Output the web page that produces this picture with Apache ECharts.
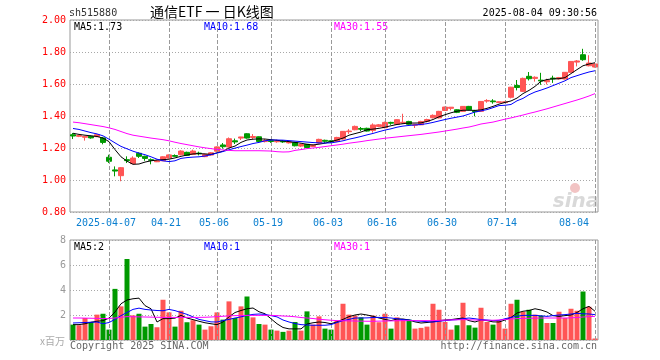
<!DOCTYPE html>
<html><head><meta charset="utf-8">
<script src="https://cdn.jsdelivr.net/npm/echarts@6/dist/echarts.min.js"></script>
<style>html,body{margin:0;padding:0;background:#fff}#c{width:660px;height:360px}</style>
</head><body><div id="c"></div>
<script>
const dates = ["2025-03-27","2025-03-28","2025-03-31","2025-04-01","2025-04-02","2025-04-03","2025-04-07","2025-04-08","2025-04-09","2025-04-10","2025-04-11","2025-04-14","2025-04-15","2025-04-16","2025-04-17","2025-04-18","2025-04-21","2025-04-22","2025-04-23","2025-04-24","2025-04-25","2025-04-28","2025-04-29","2025-04-30","2025-05-06","2025-05-07","2025-05-08","2025-05-09","2025-05-12","2025-05-13","2025-05-14","2025-05-15","2025-05-16","2025-05-19","2025-05-20","2025-05-21","2025-05-22","2025-05-23","2025-05-26","2025-05-27","2025-05-28","2025-05-29","2025-05-30","2025-06-03","2025-06-04","2025-06-05","2025-06-06","2025-06-09","2025-06-10","2025-06-11","2025-06-12","2025-06-13","2025-06-16","2025-06-17","2025-06-18","2025-06-19","2025-06-20","2025-06-23","2025-06-24","2025-06-25","2025-06-26","2025-06-27","2025-06-30","2025-07-01","2025-07-02","2025-07-03","2025-07-04","2025-07-07","2025-07-08","2025-07-09","2025-07-10","2025-07-11","2025-07-14","2025-07-15","2025-07-16","2025-07-17","2025-07-18","2025-07-21","2025-07-22","2025-07-23","2025-07-24","2025-07-25","2025-07-28","2025-07-29","2025-07-30","2025-07-31","2025-08-01","2025-08-04"];
const xTickDates = ["2025-04-07","2025-04-21","2025-05-06","2025-05-19","2025-06-03","2025-06-16","2025-06-30","2025-07-14","2025-08-04"];
const opens = [1.283,1.273,1.267,1.273,1.271,1.263,1.142,1.063,1.027,1.127,1.102,1.167,1.148,1.127,1.114,1.120,1.137,1.153,1.158,1.173,1.160,1.168,1.146,1.156,1.180,1.219,1.206,1.245,1.262,1.289,1.266,1.270,1.240,1.245,1.239,1.243,1.232,1.235,1.212,1.223,1.210,1.231,1.248,1.245,1.241,1.256,1.302,1.314,1.322,1.323,1.310,1.335,1.327,1.360,1.348,1.356,1.366,1.342,1.345,1.366,1.389,1.388,1.435,1.448,1.439,1.429,1.460,1.432,1.429,1.493,1.494,1.484,1.484,1.517,1.591,1.554,1.648,1.635,1.624,1.614,1.637,1.632,1.631,1.673,1.737,1.783,1.714,1.706];
const closes = [1.275,1.278,1.273,1.263,1.283,1.235,1.117,1.056,1.077,1.121,1.137,1.148,1.135,1.123,1.120,1.145,1.157,1.148,1.181,1.154,1.181,1.164,1.160,1.170,1.207,1.208,1.258,1.238,1.269,1.262,1.272,1.241,1.247,1.241,1.244,1.238,1.238,1.214,1.222,1.203,1.218,1.254,1.242,1.240,1.266,1.304,1.306,1.335,1.317,1.306,1.344,1.345,1.360,1.355,1.377,1.361,1.348,1.348,1.366,1.378,1.404,1.429,1.456,1.455,1.423,1.460,1.439,1.427,1.491,1.497,1.489,1.489,1.489,1.580,1.578,1.635,1.633,1.642,1.619,1.622,1.632,1.640,1.673,1.741,1.744,1.752,1.731,1.725];
const lows = [1.256,1.268,1.246,1.258,1.268,1.223,1.106,1.023,0.992,1.106,1.100,1.138,1.120,1.098,1.112,1.118,1.135,1.145,1.154,1.150,1.156,1.154,1.143,1.153,1.177,1.196,1.204,1.225,1.250,1.258,1.255,1.236,1.235,1.232,1.233,1.232,1.228,1.210,1.206,1.199,1.206,1.228,1.232,1.232,1.237,1.253,1.288,1.311,1.306,1.303,1.296,1.330,1.323,1.345,1.345,1.350,1.345,1.325,1.343,1.360,1.385,1.385,1.433,1.435,1.418,1.427,1.436,1.398,1.426,1.483,1.477,1.481,1.480,1.510,1.560,1.550,1.622,1.615,1.595,1.597,1.607,1.628,1.629,1.670,1.710,1.745,1.710,1.703];
const highs = [1.294,1.283,1.275,1.277,1.285,1.269,1.158,1.085,1.081,1.148,1.148,1.173,1.152,1.135,1.126,1.148,1.160,1.160,1.186,1.177,1.190,1.177,1.164,1.175,1.210,1.231,1.266,1.259,1.270,1.292,1.287,1.272,1.257,1.252,1.252,1.250,1.242,1.238,1.228,1.225,1.222,1.258,1.252,1.248,1.270,1.306,1.318,1.340,1.331,1.327,1.354,1.350,1.365,1.364,1.380,1.414,1.370,1.350,1.370,1.383,1.410,1.432,1.458,1.456,1.442,1.462,1.463,1.438,1.493,1.505,1.505,1.492,1.494,1.582,1.625,1.640,1.675,1.648,1.670,1.633,1.652,1.644,1.675,1.743,1.750,1.820,1.780,1.730];
const ma5 = [1.292,1.285,1.280,1.276,1.272,1.262,1.240,1.190,1.145,1.118,1.098,1.100,1.112,1.120,1.125,1.127,1.130,1.138,1.148,1.156,1.163,1.165,1.163,1.160,1.170,1.180,1.200,1.212,1.235,1.250,1.255,1.257,1.256,1.252,1.248,1.244,1.240,1.235,1.230,1.223,1.219,1.224,1.230,1.240,1.250,1.262,1.280,1.290,1.300,1.314,1.318,1.323,1.330,1.339,1.347,1.352,1.356,1.356,1.357,1.366,1.378,1.395,1.408,1.420,1.430,1.436,1.436,1.435,1.438,1.448,1.460,1.474,1.485,1.494,1.512,1.540,1.560,1.585,1.617,1.628,1.632,1.633,1.640,1.665,1.690,1.714,1.725,1.733];
const ma10 = [1.322,1.316,1.306,1.296,1.288,1.276,1.255,1.232,1.210,1.195,1.180,1.168,1.158,1.145,1.130,1.120,1.115,1.120,1.135,1.140,1.143,1.145,1.150,1.158,1.168,1.178,1.189,1.199,1.209,1.218,1.228,1.235,1.245,1.250,1.250,1.249,1.246,1.243,1.240,1.237,1.234,1.232,1.231,1.232,1.238,1.245,1.255,1.263,1.272,1.282,1.291,1.302,1.312,1.320,1.330,1.337,1.341,1.344,1.347,1.352,1.360,1.369,1.378,1.386,1.393,1.400,1.412,1.425,1.432,1.440,1.452,1.465,1.467,1.472,1.495,1.510,1.533,1.550,1.562,1.575,1.590,1.605,1.620,1.640,1.652,1.664,1.675,1.683];
const ma30 = [1.362,1.358,1.352,1.346,1.340,1.334,1.326,1.316,1.303,1.290,1.280,1.274,1.268,1.262,1.257,1.252,1.245,1.236,1.228,1.221,1.214,1.207,1.201,1.196,1.191,1.188,1.185,1.183,1.183,1.183,1.183,1.183,1.182,1.181,1.177,1.175,1.176,1.185,1.190,1.196,1.200,1.204,1.209,1.214,1.219,1.224,1.230,1.235,1.240,1.246,1.251,1.256,1.261,1.265,1.269,1.273,1.277,1.281,1.285,1.290,1.295,1.300,1.306,1.312,1.318,1.325,1.331,1.340,1.350,1.356,1.362,1.371,1.380,1.388,1.397,1.406,1.416,1.425,1.435,1.445,1.456,1.467,1.478,1.489,1.500,1.512,1.525,1.540];
const volumes = [1.23,1.18,1.76,1.44,2.03,2.10,0.83,4.09,2.69,6.48,1.97,2.10,1.07,1.28,1.02,3.22,2.21,1.07,2.34,1.42,1.58,1.23,0.83,1.10,2.21,1.63,3.09,1.76,2.69,3.48,1.81,1.28,1.23,0.83,0.75,0.65,0.75,1.44,0.75,2.29,1.23,1.89,0.91,0.83,1.55,2.90,2.03,1.95,1.81,1.23,1.95,1.42,2.10,0.91,1.81,1.63,1.63,0.91,0.97,1.07,2.90,2.42,1.44,0.83,1.18,2.98,1.18,0.99,2.58,1.44,1.23,1.55,0.91,2.90,3.22,2.26,2.42,2.03,1.95,1.36,1.36,2.26,1.76,2.50,2.34,3.88,2.66,0.12];
const vma5 = [1.23,1.23,1.30,1.42,1.50,1.55,1.75,2.24,2.90,3.20,3.30,3.35,2.75,2.50,1.44,1.71,1.71,1.75,1.97,1.76,1.63,1.50,1.38,1.30,1.23,1.44,1.85,2.20,2.36,2.50,2.56,2.26,2.10,1.70,1.30,1.00,0.89,0.89,0.89,1.28,1.38,1.44,1.40,1.30,1.45,1.65,1.87,2.00,2.08,2.00,1.90,1.76,1.65,1.55,1.68,1.68,1.60,1.45,1.36,1.40,1.46,1.55,1.60,1.63,1.70,1.76,1.55,1.44,1.60,1.55,1.45,1.44,1.60,1.80,2.16,2.30,2.36,2.50,2.40,2.24,1.95,1.89,1.95,2.00,2.20,2.50,2.69,2.30];
const vma10 = [1.36,1.38,1.40,1.42,1.44,1.30,1.40,1.65,1.95,2.20,2.45,2.55,2.45,2.40,2.36,2.34,2.45,2.35,2.20,2.05,1.85,1.65,1.55,1.45,1.44,1.55,1.65,1.76,1.85,1.97,2.05,2.08,2.05,1.95,1.85,1.60,1.44,1.32,1.23,1.20,1.18,1.18,1.18,1.23,1.40,1.55,1.65,1.76,1.76,1.77,1.80,1.81,1.80,1.76,1.70,1.63,1.60,1.53,1.50,1.47,1.44,1.50,1.55,1.60,1.63,1.70,1.76,1.70,1.63,1.60,1.55,1.57,1.70,1.81,1.90,1.97,1.97,1.97,1.93,1.89,1.95,2.00,2.03,2.08,2.13,2.10,2.08,2.03];
const vma30 = [1.76,1.76,1.75,1.74,1.73,1.72,1.72,1.76,1.82,1.87,1.86,1.85,1.84,1.83,1.82,1.81,1.81,1.81,1.81,1.81,1.81,1.81,1.82,1.84,1.87,1.90,1.93,1.95,1.96,1.97,1.97,1.97,1.97,1.97,1.95,1.92,1.90,1.86,1.80,1.76,1.72,1.66,1.62,1.58,1.55,1.54,1.53,1.52,1.51,1.50,1.50,1.51,1.52,1.53,1.54,1.55,1.55,1.55,1.55,1.55,1.55,1.57,1.59,1.61,1.62,1.63,1.62,1.60,1.59,1.58,1.58,1.60,1.64,1.68,1.71,1.73,1.74,1.75,1.76,1.76,1.76,1.76,1.76,1.77,1.80,1.84,1.87,1.89];
const priceTicks = [0.8, 2.0, 0.2];
const volTicks = [0, 8, 2];
const headerTexts = {code:"sh515880", title:"通信ETF 一 日K线图", time:"2025-08-04 09:30:56"};
const maLabels = ["MA5:1.73","MA10:1.68","MA30:1.55"];
const volMaLabels = ["MA5:2","MA10:1","MA30:1"];

const RED = '#ff5555', GREEN = '#009900';
const MONO = '"DejaVu Sans Mono", "Liberation Mono", monospace';
const tickIdx = xTickDates.map(d => dates.indexOf(d));
const showTick = (i) => tickIdx.indexOf(i) >= 0;
const gridLineH = {show:true, lineStyle:{color:'#a8a8a8', width:1, type:[1,2]}};

const chart = echarts.init(document.getElementById('c'), null, {renderer:'canvas'});
const txt = (x, y, text, fill, align, font) => ({type:'text', x:x, y:y, silent:true, style:{text:text, fill:fill, textAlign:align||'left', textVerticalAlign:'middle', font:font||('10px '+MONO)}});
const dashMarks = {silent:true, symbol:['none','none'], label:{show:false}, animation:false,
  lineStyle:{color:'#999999', width:1, type:'dashed'}, data:xTickDates.map(d => ({xAxis:d}))};

chart.setOption({
  animation:false,
  backgroundColor:'#fff',
  grid:[
    {left:70, top:20, width:528, height:192, show:true, borderColor:'#999', borderWidth:1, backgroundColor:'transparent'},
    {left:70, top:240, width:528, height:100, show:true, borderColor:'#999', borderWidth:1, backgroundColor:'transparent'}
  ],
  xAxis:[
    {type:'category', gridIndex:0, data:dates, boundaryGap:true, axisLine:{show:false}, axisTick:{show:false},
     splitLine:{show:false},
     axisLabel:{interval:(i)=>showTick(i), color:'#0a7fd0', fontFamily:MONO, fontSize:10, margin:6, padding:[0,6,0,0], alignMaxLabel:'right',
       formatter:(v)=> v === xTickDates[0] ? v : v.slice(5)}},
    {type:'category', gridIndex:1, data:dates, boundaryGap:true, axisLine:{show:false}, axisTick:{show:false},
     splitLine:{show:false}, axisLabel:{show:false}}
  ],
  yAxis:[
    {type:'value', gridIndex:0, min:priceTicks[0], max:priceTicks[1], interval:priceTicks[2], axisLine:{show:false}, axisTick:{show:false},
     splitLine:gridLineH,
     axisLabel:{color:'#ff0000', fontFamily:MONO, fontSize:10, margin:4, formatter:(v)=>v.toFixed(2)}},
    {type:'value', gridIndex:1, min:volTicks[0], max:volTicks[1], interval:volTicks[2], axisLine:{show:false}, axisTick:{show:false},
     splitLine:gridLineH,
     axisLabel:{color:'#999999', fontFamily:MONO, fontSize:10, margin:4, formatter:(v)=> v === 0 ? '' : String(v)}}
  ],
  series:[
    {type:'candlestick', xAxisIndex:0, yAxisIndex:0, barWidth:5,
     data:dates.map((d,i)=>[opens[i], closes[i], lows[i], highs[i]]),
     itemStyle:{color:RED, color0:GREEN, borderColor:RED, borderColor0:GREEN, borderWidth:1},
     markLine:dashMarks},
    {type:'line', xAxisIndex:0, yAxisIndex:0, data:ma5, showSymbol:false, lineStyle:{color:'#000000', width:1}, z:5},
    {type:'line', xAxisIndex:0, yAxisIndex:0, data:ma10, showSymbol:false, lineStyle:{color:'#0000ff', width:1}, z:5},
    {type:'line', xAxisIndex:0, yAxisIndex:0, data:ma30, showSymbol:false, lineStyle:{color:'#ff00ff', width:1}, z:5},
    {type:'bar', xAxisIndex:1, yAxisIndex:1, barWidth:5, data:volumes,
     itemStyle:{color:(p)=> closes[p.dataIndex] >= opens[p.dataIndex] ? RED : GREEN},
     markLine:dashMarks},
    {type:'line', xAxisIndex:1, yAxisIndex:1, data:vma5, showSymbol:false, lineStyle:{color:'#000000', width:1}, z:5},
    {type:'line', xAxisIndex:1, yAxisIndex:1, data:vma10, showSymbol:false, lineStyle:{color:'#0000ff', width:1}, z:5},
    {type:'line', xAxisIndex:1, yAxisIndex:1, data:vma30, showSymbol:false, lineStyle:{color:'#ff00ff', width:1}, z:5}
  ],
  graphic:[
    txt(69, 13, headerTexts.code, '#333333'),
    txt(150, 12, headerTexts.title, '#000000', 'left', '14px "Noto Sans CJK SC"'),
    txt(597, 13, headerTexts.time, '#000000', 'right'),
    txt(74, 27, maLabels[0], '#000000'),
    txt(204, 27, maLabels[1], '#0000ff'),
    txt(334, 27, maLabels[2], '#ff00ff'),
    txt(74, 247, volMaLabels[0], '#000000'),
    txt(204, 247, volMaLabels[1], '#0000ff'),
    txt(334, 247, volMaLabels[2], '#ff00ff'),
    txt(65, 341, 'x百万', '#aaaaaa', 'right', '10px "Noto Sans CJK SC"'),
    txt(70, 346, 'Copyright 2025 SINA.COM', '#666666'),
    txt(597, 346, 'http://finance.sina.com.cn', '#666666', 'right'),
    {type:'circle', silent:true, shape:{cx:575, cy:188, r:5}, style:{fill:'#f2c4c4'}},
    txt(576, 202, 'sina', '#d9d9d9', 'center', 'italic bold 20px "DejaVu Sans"')
  ]
});
</script></body></html>
